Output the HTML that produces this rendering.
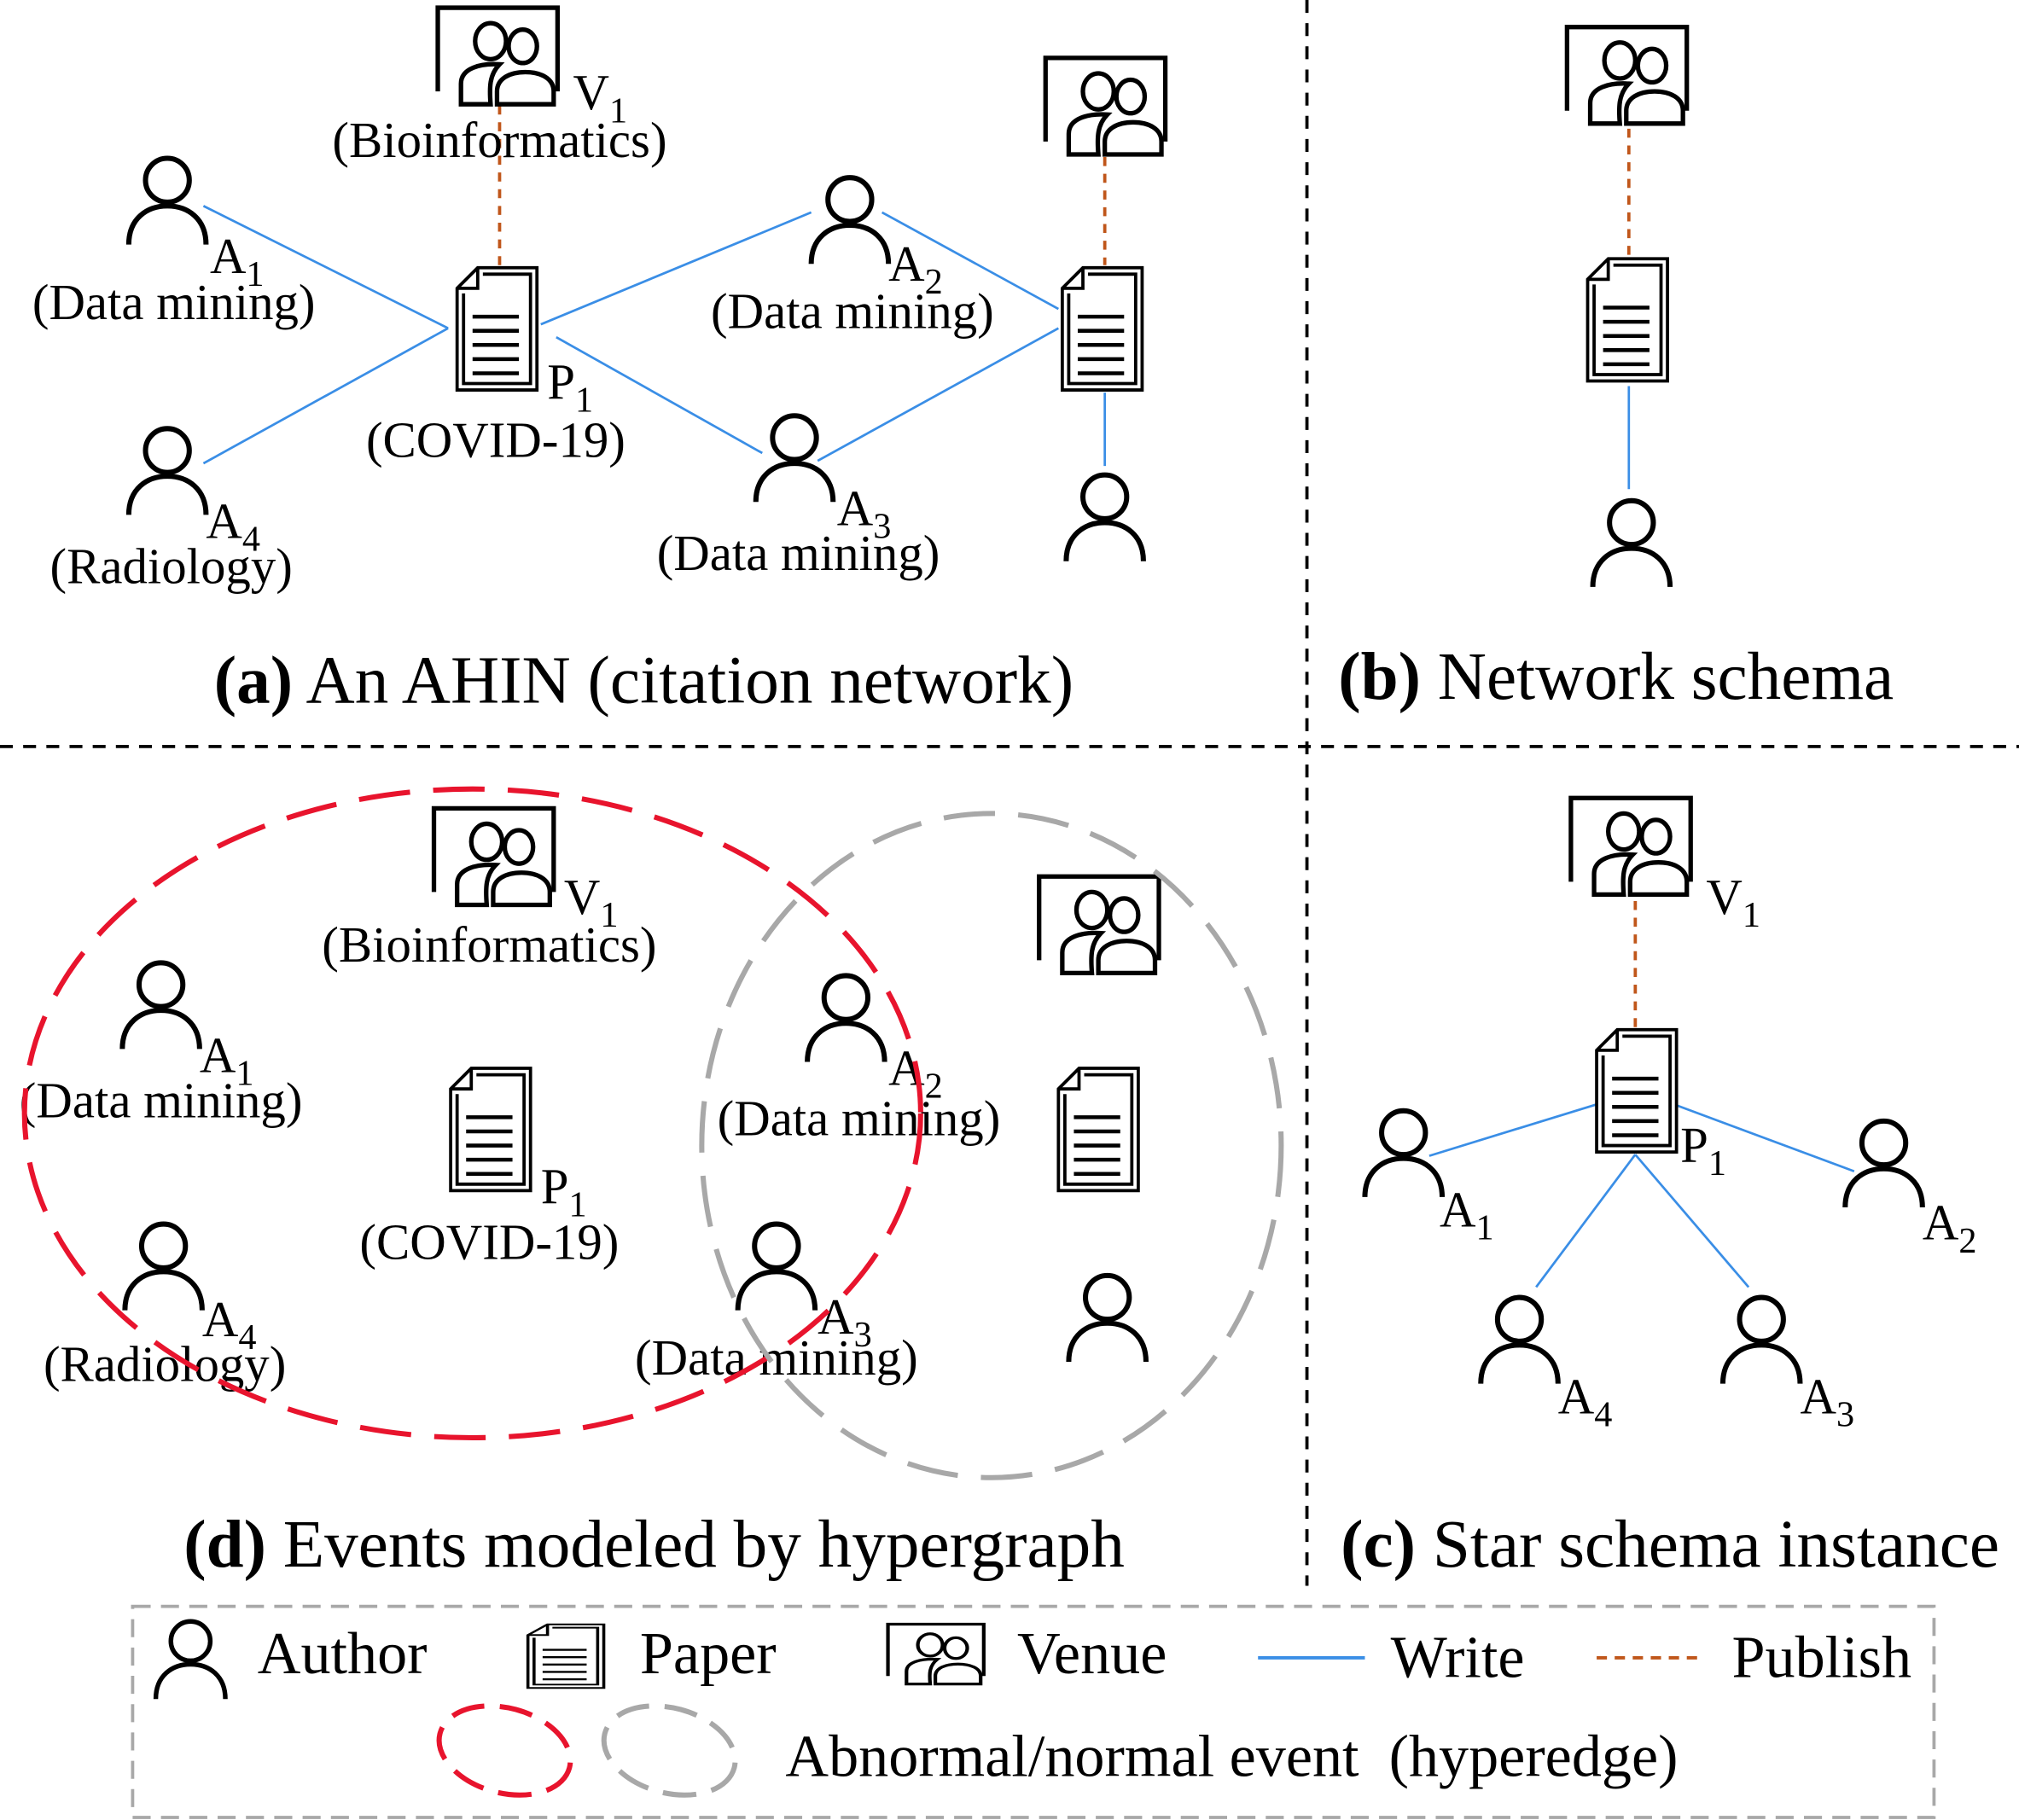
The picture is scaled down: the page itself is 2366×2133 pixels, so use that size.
<!DOCTYPE html>
<html><head><meta charset="utf-8"><style>
html,body{margin:0;padding:0;background:#fff}
svg{display:block}
text{font-family:"Liberation Serif",serif;fill:#000}
</style></head><body>
<svg width="2366" height="2133" viewBox="0 0 1568 1414" preserveAspectRatio="none" xmlns="http://www.w3.org/2000/svg">
<defs>
<g id="au" fill="none" stroke="#000" stroke-width="4">
<circle cx="0" cy="0" r="17"/>
<path d="M-30,50 C-30,30 -16,20 0,20 C16,20 30,30 30,50"/>
</g>
<g id="pa" fill="#fff" stroke="#000" stroke-width="2.5">
<path d="M16,0 H62 V95 H0 V16 Z"/>
<path d="M20,5 H57 V90 H5 V20" fill="none"/>
<path d="M0,16 H16 V0" fill="none"/>
<g stroke-width="3"><line x1="12" y1="38" x2="48" y2="38"/><line x1="12" y1="49" x2="48" y2="49"/><line x1="12" y1="60" x2="48" y2="60"/><line x1="12" y1="71" x2="48" y2="71"/><line x1="12" y1="82" x2="48" y2="82"/></g>
</g>
<g id="ve" fill="#fff" stroke="#000" stroke-width="3.5">
<path d="M2,68 V3 H95 V68" fill="none"/>
<ellipse cx="43" cy="29" rx="12" ry="14"/>
<ellipse cx="68" cy="33" rx="11" ry="13"/>
<path d="M20,78 V62 C20,50 35,46 50,47 C42,55 42,65 43,78 Z"/>
<path d="M48,78 V68 C48,58 58,53 70,53 C82,53 92,58 92,68 V78 Z"/>
</g>
</defs>

<g stroke="#000" stroke-width="2.5" stroke-dasharray="10,8">
<line x1="1015" y1="0" x2="1015" y2="1232"/>
<line x1="0" y1="580" x2="1568" y2="580"/>
</g>

<!-- (a) -->
<g stroke="#3a8ee6" stroke-width="1.8">
<line x1="158" y1="160" x2="348" y2="255"/>
<line x1="158" y1="360" x2="348" y2="255"/>
<line x1="420" y1="252" x2="630" y2="165"/>
<line x1="432" y1="262" x2="592" y2="352"/>
<line x1="685" y1="165" x2="822" y2="240"/>
<line x1="635" y1="358" x2="822" y2="255"/>
<line x1="858" y1="305" x2="858" y2="362"/>
</g>
<g stroke="#c0561a" stroke-width="2.5" stroke-dasharray="7,6">
<line x1="388" y1="82" x2="388" y2="206"/>
<line x1="858" y1="122" x2="858" y2="206"/>
</g>
<use href="#ve" x="338" y="3"/>
<use href="#pa" x="355" y="208"/>
<use href="#ve" x="810" y="42"/>
<use href="#pa" x="825" y="208"/>
<use href="#au" x="130" y="140"/>
<use href="#au" x="130" y="350"/>
<use href="#au" x="660" y="155"/>
<use href="#au" x="617" y="340"/>
<use href="#au" x="858" y="386"/>
<g font-size="39">
<text x="445" y="85">V<tspan font-size="28" dy="10">1</tspan></text>
<text x="388" y="122" text-anchor="middle">(Bioinformatics)</text>
<text x="163" y="212">A<tspan font-size="28" dy="10">1</tspan></text>
<text x="135" y="248" text-anchor="middle">(Data mining)</text>
<text x="160" y="418">A<tspan font-size="28" dy="10">4</tspan></text>
<text x="133" y="453" text-anchor="middle">(Radiology)</text>
<text x="425" y="310">P<tspan font-size="28" dy="10">1</tspan></text>
<text x="385" y="355" text-anchor="middle">(COVID-19)</text>
<text x="690" y="218">A<tspan font-size="28" dy="10">2</tspan></text>
<text x="662" y="255" text-anchor="middle">(Data mining)</text>
<text x="650" y="408">A<tspan font-size="28" dy="10">3</tspan></text>
<text x="620" y="443" text-anchor="middle">(Data mining)</text>
</g>
<text x="500" y="546" font-size="52.5" text-anchor="middle"><tspan font-weight="bold">(a)</tspan> An AHIN (citation network)</text>

<!-- (b) -->
<line x1="1265" y1="100" x2="1265" y2="198" stroke="#c0561a" stroke-width="2.5" stroke-dasharray="7,6"/>
<line x1="1265" y1="300" x2="1265" y2="380" stroke="#3a8ee6" stroke-width="1.8"/>
<use href="#ve" x="1215" y="18"/>
<use href="#pa" x="1233" y="201"/>
<use href="#au" x="1267" y="406"/>
<text x="1255" y="543" font-size="52.5" text-anchor="middle"><tspan font-weight="bold">(b)</tspan> Network schema</text>

<!-- (d) -->
<use href="#ve" x="335" y="625"/>
<use href="#pa" x="350" y="830"/>
<use href="#ve" x="805" y="678"/>
<use href="#pa" x="822" y="830"/>
<use href="#au" x="125" y="765"/>
<use href="#au" x="127" y="968"/>
<use href="#au" x="657" y="775"/>
<use href="#au" x="603" y="968"/>
<use href="#au" x="860" y="1008"/>
<g font-size="39">
<text x="438" y="710">V<tspan font-size="28" dy="10">1</tspan></text>
<text x="380" y="747" text-anchor="middle">(Bioinformatics)</text>
<text x="155" y="833">A<tspan font-size="28" dy="10">1</tspan></text>
<text x="125" y="868" text-anchor="middle">(Data mining)</text>
<text x="420" y="935">P<tspan font-size="28" dy="10">1</tspan></text>
<text x="380" y="978" text-anchor="middle">(COVID-19)</text>
<text x="157" y="1038">A<tspan font-size="28" dy="10">4</tspan></text>
<text x="128" y="1073" text-anchor="middle">(Radiology)</text>
<text x="690" y="843">A<tspan font-size="28" dy="10">2</tspan></text>
<text x="667" y="882" text-anchor="middle">(Data mining)</text>
<text x="635" y="1036">A<tspan font-size="28" dy="10">3</tspan></text>
<text x="603" y="1068" text-anchor="middle">(Data mining)</text>
</g>
<ellipse cx="367" cy="865" rx="348" ry="252" fill="none" stroke="#e8142d" stroke-width="4" stroke-dasharray="40,18"/>
<ellipse cx="770" cy="890" rx="225" ry="258" fill="none" stroke="#a8a8a8" stroke-width="4" stroke-dasharray="40,18"/>
<text x="508" y="1217" font-size="52.5" text-anchor="middle"><tspan font-weight="bold">(d)</tspan> Events modeled by hypergraph</text>

<!-- (c) -->
<line x1="1270" y1="700" x2="1270" y2="798" stroke="#c0561a" stroke-width="2.5" stroke-dasharray="7,6"/>
<g stroke="#3a8ee6" stroke-width="1.8">
<line x1="1110" y1="898" x2="1240" y2="858"/>
<line x1="1300" y1="858" x2="1440" y2="910"/>
<line x1="1270" y1="897" x2="1193" y2="1000"/>
<line x1="1270" y1="897" x2="1358" y2="1000"/>
</g>
<use href="#ve" x="1218" y="617"/>
<use href="#pa" x="1240" y="800"/>
<use href="#au" x="1090" y="880"/>
<use href="#au" x="1463" y="888"/>
<use href="#au" x="1180" y="1025"/>
<use href="#au" x="1368" y="1025"/>
<g font-size="39">
<text x="1325" y="710">V<tspan font-size="28" dy="10">1</tspan></text>
<text x="1305" y="903">P<tspan font-size="28" dy="10">1</tspan></text>
<text x="1118" y="953">A<tspan font-size="28" dy="10">1</tspan></text>
<text x="1493" y="963">A<tspan font-size="28" dy="10">2</tspan></text>
<text x="1210" y="1098">A<tspan font-size="28" dy="10">4</tspan></text>
<text x="1398" y="1098">A<tspan font-size="28" dy="10">3</tspan></text>
</g>
<text x="1297" y="1217" font-size="52.5" text-anchor="middle"><tspan font-weight="bold">(c)</tspan> Star schema instance</text>

<!-- legend -->
<rect x="103" y="1248" width="1399" height="164" fill="none" stroke="#a8a8a8" stroke-width="2.5" stroke-dasharray="14,8"/>
<g transform="translate(148,1275) scale(0.9)"><use href="#au"/></g>
<g transform="translate(410,1262) scale(0.95,0.52)"><use href="#pa"/></g>
<g transform="translate(688,1260) scale(0.8,0.62)"><use href="#ve"/></g>
<line x1="977" y1="1288" x2="1060" y2="1288" stroke="#3a8ee6" stroke-width="2.5"/>
<line x1="1240" y1="1288" x2="1322" y2="1288" stroke="#c0561a" stroke-width="2.5" stroke-dasharray="8,6"/>
<ellipse cx="392" cy="1360" rx="52" ry="33" transform="rotate(15 392 1360)" fill="none" stroke="#e8142d" stroke-width="4" stroke-dasharray="26,12"/>
<ellipse cx="520" cy="1360" rx="52" ry="33" transform="rotate(15 520 1360)" fill="none" stroke="#a8a8a8" stroke-width="4" stroke-dasharray="26,12"/>
<g font-size="46.5">
<text x="200" y="1300">Author</text>
<text x="497" y="1300">Paper</text>
<text x="790" y="1300">Venue</text>
<text x="1080" y="1303">Write</text>
<text x="1345" y="1303">Publish</text>
<text x="610" y="1380" xml:space="preserve">Abnormal/normal event  (hyperedge)</text>
</g>
</svg>
</body></html>
